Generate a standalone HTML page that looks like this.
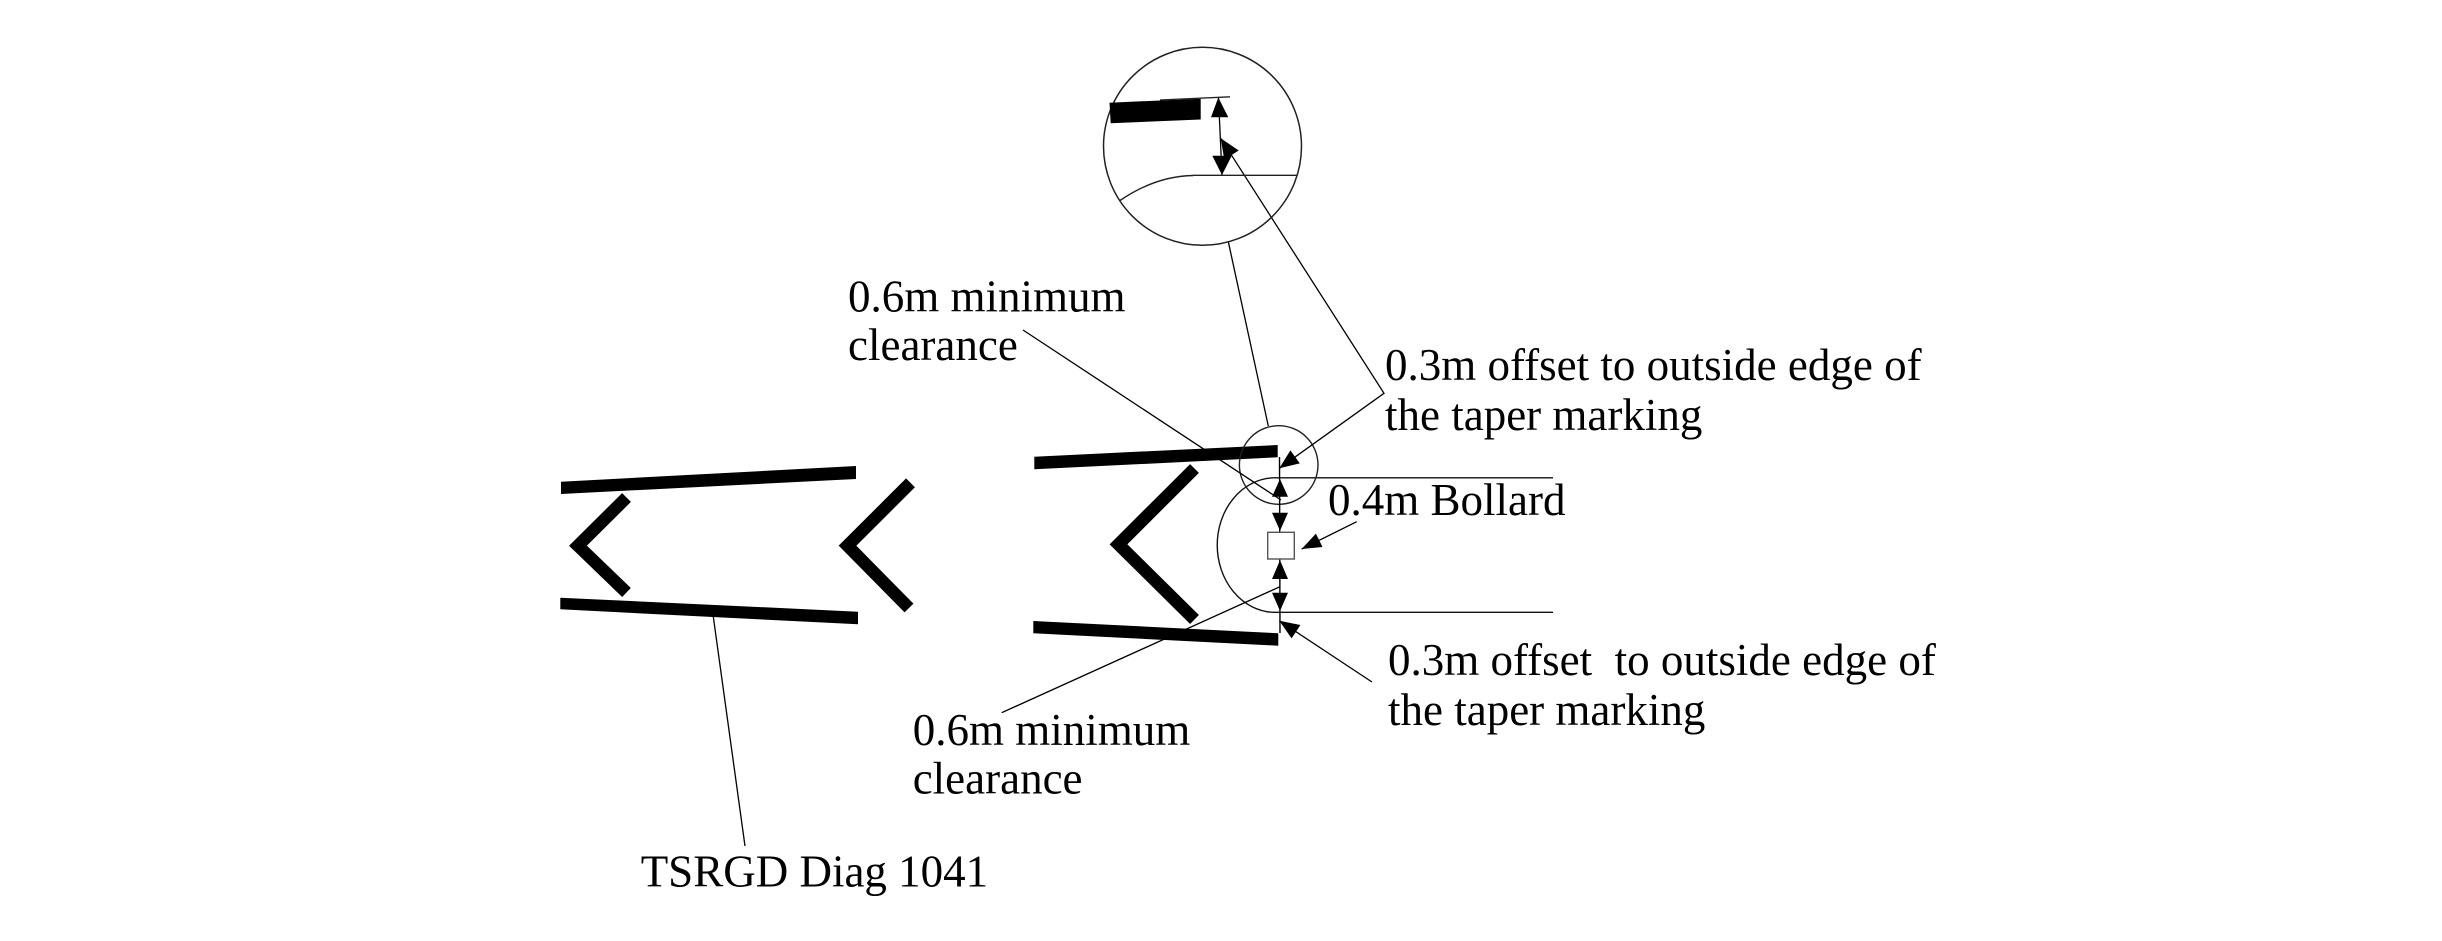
<!DOCTYPE html>
<html>
<head>
<meta charset="utf-8">
<style>
  html, body { margin: 0; padding: 0; background: #ffffff; }
  body { width: 2442px; height: 941px; overflow: hidden; }
  svg { display: block; }
  text { font-family: "Liberation Serif", "Times New Roman", serif; font-size: 45px; fill: #000; }
</style>
</head>
<body>
<svg width="2442" height="941" viewBox="0 0 2442 941" xmlns="http://www.w3.org/2000/svg">
  <rect x="0" y="0" width="2442" height="941" fill="#ffffff"/>

  <!-- ===== Left group (TSRGD Diag 1041) ===== -->
  <polygon points="561,481.7 856,466 856,479 561,494" fill="#000"/>
  <polygon points="560.3,597.7 858,611.7 858,624.3 560.3,609.3" fill="#000"/>
  <polyline points="626.5,497.5 578,545.7 626.5,592.5" fill="none" stroke="#000" stroke-width="12.5" stroke-linejoin="miter" stroke-miterlimit="10" stroke-linecap="butt"/>
  <polyline points="910.5,482.8 847.5,545.7 909,608" fill="none" stroke="#000" stroke-width="12.5" stroke-linejoin="miter" stroke-miterlimit="10" stroke-linecap="butt"/>
  <!-- leader to TSRGD label -->
  <line x1="713.3" y1="616.7" x2="745" y2="846" stroke="#000" stroke-width="1.3"/>

  <!-- ===== Right group ===== -->
  <polygon points="1034.3,456.7 1277.7,445 1277.7,457.3 1034.3,469.3" fill="#000"/>
  <polygon points="1033.3,621 1278.3,633.3 1278.3,645.7 1033.3,633.3" fill="#000"/>
  <polyline points="1194.5,468.5 1118.5,544.3 1194.5,619.5" fill="none" stroke="#000" stroke-width="12.5" stroke-linejoin="miter" stroke-miterlimit="10" stroke-linecap="butt"/>

  <!-- taper edge lines + arc -->
  <path d="M1553,477.8 L1273,477.8 A58,67.3 0 0 0 1273,612.3 L1553,612.3" fill="none" stroke="#111" stroke-width="1.4"/>

  <!-- small detail circle -->
  <circle cx="1278.7" cy="465" r="39.3" fill="none" stroke="#222" stroke-width="1.4"/>

  <!-- vertical dimension line -->
  <line x1="1279.5" y1="457" x2="1280" y2="633" stroke="#000" stroke-width="1.4"/>
  <!-- dimension arrows -->
  <polygon points="1280,479 1272,496.7 1288,496.7" fill="#000"/>
  <polygon points="1280,530.7 1272,512.7 1288,512.7" fill="#000"/>
  <polygon points="1280,560.3 1272,579 1288,579" fill="#000"/>
  <polygon points="1280,611 1272,592.7 1288,592.7" fill="#000"/>
  <!-- bollard square -->
  <rect x="1267.7" y="532.3" width="26.6" height="26.7" fill="#fff" stroke="#555" stroke-width="1.4"/>

  <!-- leader: top 0.6m minimum clearance -->
  <line x1="1023" y1="330" x2="1281" y2="500" stroke="#000" stroke-width="1.3"/>
  <!-- leader: bottom 0.6m minimum clearance -->
  <line x1="1280" y1="586.7" x2="1001.7" y2="712.7" stroke="#000" stroke-width="1.3"/>

  <!-- leader: top 0.3m offset (V shape) -->
  <polyline points="1220.7,138.3 1384,393.3 1279.3,468.3" fill="none" stroke="#000" stroke-width="1.3"/>
  <polygon points="1279.3,468.3 1299.8,463.4 1290.4,450.4" fill="#000"/>

  <!-- leader: bottom 0.3m offset -->
  <line x1="1279.3" y1="620.7" x2="1372" y2="682" stroke="#000" stroke-width="1.3"/>
  <polygon points="1279.3,620.7 1291.6,638.4 1300.4,625" fill="#000"/>

  <!-- leader: 0.4m Bollard -->
  <line x1="1301.7" y1="549" x2="1356.7" y2="521.7" stroke="#000" stroke-width="1.3"/>
  <polygon points="1301.7,549 1322.5,547 1315.9,533.6" fill="#000"/>

  <!-- connector between circles -->
  <line x1="1228.3" y1="241.7" x2="1268.3" y2="426" stroke="#000" stroke-width="1.3"/>

  <!-- ===== Big magnified circle ===== -->
  <circle cx="1202.5" cy="146.3" r="99" fill="none" stroke="#222" stroke-width="1.5"/>
  <polygon points="1109.5,102.7 1200.7,98.7 1200.7,119.5 1110.7,123.3" fill="#000"/>
  <line x1="1160" y1="100" x2="1230" y2="96.8" stroke="#222" stroke-width="1.3"/>
  <line x1="1218.5" y1="98" x2="1222" y2="175" stroke="#000" stroke-width="1.3"/>
  <polygon points="1218.3,97.5 1211,117.3 1228.3,117.3" fill="#000"/>
  <polygon points="1222,175 1212.3,155.7 1231.7,155.7" fill="#000"/>
  <line x1="1193" y1="175.3" x2="1297" y2="175.3" stroke="#222" stroke-width="1.4"/>
  <path d="M1120,200.5 Q1156,176 1193.3,175.5" fill="none" stroke="#222" stroke-width="1.4"/>
  <polygon points="1220.7,138.3 1238.7,150.5 1224.3,159.7" fill="#000"/>

  <!-- ===== Labels ===== -->
  <text x="848" y="311.7">0.6m minimum</text>
  <text x="848" y="360">clearance</text>

  <text x="1385" y="380">0.3m offset to outside edge of</text>
  <text x="1385" y="430">the taper marking</text>

  <text x="1328" y="515">0.4m Bollard</text>

  <text x="1388" y="675" xml:space="preserve" style="white-space:pre">0.3m offset  to outside edge of</text>
  <text x="1388" y="725">the taper marking</text>

  <text x="912.7" y="745">0.6m minimum</text>
  <text x="912.7" y="793.3">clearance</text>

  <text x="640.7" y="886.7">TSRGD Diag 1041</text>
</svg>
</body>
</html>
